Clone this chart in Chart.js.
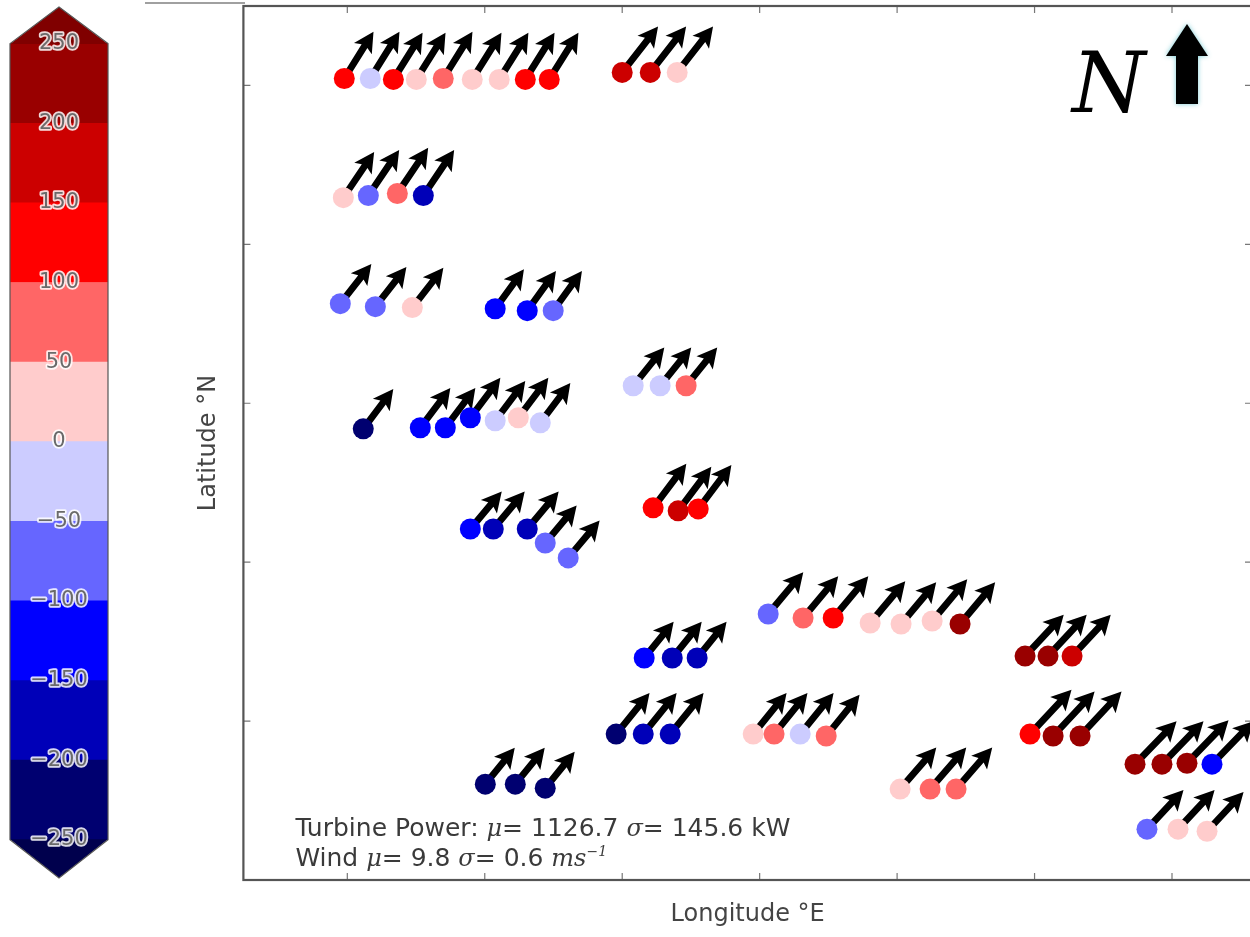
<!DOCTYPE html>
<html lang="en">
<head>
<meta charset="UTF-8">
<title>Turbine power deviation map</title>
<script src="https://cdn.jsdelivr.net/npm/chart.js"></script>
<style>
  html, body { margin: 0; padding: 0; background: #fff; overflow: hidden; }
  #wrap { position: relative; width: 1250px; height: 937px; overflow: hidden; }
  #mapChart { position: absolute; left: 0; top: 0; }
  #barChart { position: absolute; left: 0; top: 0; }
  #edge { position: absolute; left: 145px; top: 2px; width: 100px; height: 2px; background: #a0a0a0; }
</style>
</head>
<body>
<div id="wrap">
  <canvas id="mapChart" width="1256" height="937"></canvas>
  <canvas id="barChart" width="130" height="937"></canvas>
  <div id="edge"></div>
</div>
<script>
// turbine positions (axis units, tick every 1.0) and power deviation (kW)
const lon = [
  0.978, 1.167, 1.335, 1.502, 1.698, 1.909, 2.105, 2.295, 2.469,
  3.000, 3.204, 3.400,
  0.971, 1.153, 1.364, 1.553,
  0.949, 1.204, 1.473,
  2.076, 2.309, 2.498,
  1.116, 1.531, 1.713, 1.895, 2.076, 2.244, 2.404,
  3.080, 3.276, 3.465,
  1.895, 2.062, 2.309, 2.440, 2.607,
  3.225, 3.407, 3.553,
  4.062, 4.316, 4.535, 4.804, 5.029, 5.255, 5.458,
  3.160, 3.364, 3.545,
  2.956, 3.153, 3.349,
  3.953, 4.105, 4.295, 4.484,
  2.004, 2.222, 2.440,
  5.022, 5.240, 5.429,
  5.931, 6.098, 6.273,
  5.967, 6.135, 6.331,
  6.731, 6.927, 7.109, 7.291,
  6.818, 7.044, 7.255
];
const lat = [
  5.044, 5.044, 5.038, 5.038, 5.044, 5.038, 5.038, 5.038, 5.038,
  5.082, 5.082, 5.082,
  4.294, 4.307, 4.320, 4.307,
  3.627, 3.608, 3.602,
  3.595, 3.583, 3.583,
  2.839, 2.846, 2.846, 2.909, 2.890, 2.909, 2.877,
  3.110, 3.110, 3.110,
  2.209, 2.209, 2.209, 2.121, 2.027,
  2.342, 2.323, 2.335,
  1.674, 1.649, 1.649, 1.617, 1.611, 1.630, 1.611,
  1.397, 1.397, 1.397,
  0.918, 0.918, 0.918,
  0.918, 0.918, 0.918, 0.906,
  0.603, 0.603, 0.578,
  0.572, 0.572, 0.572,
  1.409, 1.409, 1.409,
  0.918, 0.906, 0.906,
  0.729, 0.729, 0.735, 0.729,
  0.320, 0.320, 0.307
];
const power = [
  130, -20, 130, 20, 80, 5, 10, 130, 130,
  170, 170, 30,
  20, -70, 70, -170,
  -70, -70, 10,
  -120, -140, -70,
  -220, -120, -140, -120, -20, 20, -30,
  -20, -10, 70,
  -130, -170, -170, -70, -80,
  130, 160, 130,
  -80, 70, 130, 10, 10, 30, 220,
  -120, -190, -190,
  -210, -190, -170,
  20, 70, -30, 70,
  -220, -220, -220,
  5, 70, 80,
  210, 210, 190,
  130, 210, 210,
  220, 220, 210, -120,
  -80, 20, 10
];
// wind speed (m/s) and direction the wind blows towards (deg from north)
const windSpd = [
  10.6, 10.6, 10.6, 10.6, 10.6, 10.6, 10.6, 10.6, 10.6,
  11.2, 11.2, 11.2,
  10.6, 10.6, 10.6, 10.6,
  9.7, 9.7, 9.7,
  9.4, 9.4, 9.4,
  9.6, 9.6, 9.6, 9.6, 9.6, 9.6, 9.6,
  9.5, 9.5, 9.5,
  9.4, 9.4, 9.4, 9.4, 9.4,
  10.6, 10.6, 10.6,
  10.5, 10.5, 10.5, 10.5, 10.5, 10.5, 10.5,
  9.0, 9.0, 9.0,
  10.2, 10.2, 10.2,
  10.2, 10.2, 10.2, 10.2,
  9.0, 9.0, 9.0,
  10.6, 10.6, 10.6,
  10.9, 10.9, 10.9,
  11.7, 11.7, 11.7,
  11.5, 11.5, 11.5, 11.5,
  10.3, 10.3, 10.3
];
const windDir = [
  32, 32, 32, 32, 32, 32, 32, 32, 32,
  38, 38, 38,
  34, 34, 34, 34,
  38, 38, 38,
  36, 36, 36,
  37, 37, 37, 37, 37, 37, 37,
  39, 39, 39,
  40, 40, 40, 40, 40,
  37, 37, 37,
  40, 40, 40, 40, 40, 40, 40,
  39, 39, 39,
  39, 39, 39,
  39, 39, 39, 39,
  39, 39, 39,
  41, 41, 41,
  43, 43, 43,
  43, 43, 43,
  44, 44, 44, 44,
  43, 43, 43
];

// colour bar
const levels = [-250, -200, -150, -100, -50, 0, 50, 100, 150, 200, 250];
const bandColors = ['#000070', '#0000b8', '#0000ff', '#6666ff', '#ccccff',
                    '#ffcccc', '#ff6666', '#ff0000', '#cc0000', '#990000'];
const underColor = '#00004d';
const overColor = '#800000';

const xTickVals = [1, 2, 3, 4, 5, 6, 7];
const yTickVals = [1, 2, 3, 4, 5];

const ARROW_PX_PER_MS = 5.2;

Chart.defaults.font.family = '"DejaVu Sans", sans-serif';

function powerColor(v) {
  for (let i = 0; i < bandColors.length; i++) {
    if (v < levels[i + 1]) return bandColors[i];
  }
  return bandColors[bandColors.length - 1];
}

// quiver style arrows, drawn under the dots
const arrowPlugin = {
  id: 'windArrows',
  beforeDatasetsDraw(chart) {
    const ctx = chart.ctx;
    const pts = chart.getDatasetMeta(0).data;
    const w = 3.4, h = 20, hw = 10.5, ax = 17;
    ctx.save();
    ctx.fillStyle = '#000';
    pts.forEach((p, i) => {
      const L = windSpd[i] * ARROW_PX_PER_MS;
      const a = windDir[i] * Math.PI / 180;
      ctx.save();
      ctx.translate(p.x, p.y);
      ctx.rotate(a - Math.PI / 2);
      ctx.beginPath();
      ctx.moveTo(0, -w);
      ctx.lineTo(L - ax, -w);
      ctx.lineTo(L - h, -hw);
      ctx.lineTo(L, 0);
      ctx.lineTo(L - h, hw);
      ctx.lineTo(L - ax, w);
      ctx.lineTo(0, w);
      ctx.closePath();
      ctx.fill();
      ctx.restore();
    });
    ctx.restore();
  }
};

// frame, inward ticks, stats text and north sign
const framePlugin = {
  id: 'frame',
  afterDraw(chart) {
    const ctx = chart.ctx;
    const a = chart.chartArea;
    const xs = chart.scales.x, ys = chart.scales.y;
    ctx.save();
    ctx.strokeStyle = '#777';
    ctx.lineWidth = 1.2;
    ctx.beginPath();
    xTickVals.forEach(v => {
      const px = xs.getPixelForValue(v);
      ctx.moveTo(px, a.bottom); ctx.lineTo(px, a.bottom - 7);
      ctx.moveTo(px, a.top); ctx.lineTo(px, a.top + 7);
    });
    yTickVals.forEach(v => {
      const py = ys.getPixelForValue(v);
      ctx.moveTo(a.left, py); ctx.lineTo(a.left + 7, py);
      ctx.moveTo(a.right, py); ctx.lineTo(a.right - 7, py);
    });
    ctx.stroke();
    ctx.strokeStyle = '#555';
    ctx.lineWidth = 2.2;
    ctx.strokeRect(a.left, a.top, a.right - a.left, a.bottom - a.top);

    // stats box text
    const sans = '25px "DejaVu Sans"';
    const mi = 'italic 24px "DejaVu Serif"';
    const lines = [
      [['Turbine Power: ', sans], ['\u03bc', mi], ['= 1126.7 ', sans], ['\u03c3', mi], ['= 145.6 kW', sans]],
      [['Wind ', sans], ['\u03bc', mi], ['= 9.8 ', sans], ['\u03c3', mi], ['= 0.6 ', sans], ['ms', mi], ['\u22121', 'italic 14px "DejaVu Serif"', -10]]
    ];
    ctx.fillStyle = '#3a3a3a';
    ctx.textBaseline = 'alphabetic';
    ctx.textAlign = 'left';
    lines.forEach((runs, li) => {
      let x = a.left + 52;
      const y = a.bottom - 44 + li * 30;
      runs.forEach(r => {
        ctx.font = r[1];
        ctx.fillText(r[0], x, y + (r[2] || 0));
        x += ctx.measureText(r[0]).width;
      });
    });

    // north sign
    ctx.font = 'italic 84px "DejaVu Serif"';
    ctx.fillStyle = '#000';
    ctx.fillText('N', 1072, 112);
    ctx.shadowColor = 'rgba(110,200,210,0.9)';
    ctx.shadowBlur = 5;
    ctx.beginPath();
    ctx.moveTo(1187, 24);
    ctx.lineTo(1208, 56);
    ctx.lineTo(1198, 56);
    ctx.lineTo(1198, 104);
    ctx.lineTo(1176, 104);
    ctx.lineTo(1176, 56);
    ctx.lineTo(1166, 56);
    ctx.closePath();
    ctx.fill();
    ctx.restore();
  }
};

new Chart(document.getElementById('mapChart'), {
  type: 'scatter',
  data: {
    datasets: [{
      data: lon.map((x, i) => ({ x: x, y: lat[i] })),
      pointBackgroundColor: power.map(powerColor),
      pointBorderWidth: 0,
      pointRadius: 10.5,
      pointHoverRadius: 10.5
    }]
  },
  options: {
    animation: false,
    responsive: false,
    events: [],
    layout: { autoPadding: false, padding: { left: 190, top: 6, right: 4, bottom: 0 } },
    plugins: { legend: { display: false }, tooltip: { enabled: false } },
    scales: {
      x: {
        type: 'linear', min: 0.244, max: 7.582,
        grid: { display: false, drawTicks: false },
        border: { display: false },
        ticks: { display: false },
        title: { display: true, text: 'Longitude \u00b0E', color: '#444',
                 font: { size: 24 }, padding: { top: 20.6, bottom: 7.6 } }
      },
      y: {
        type: 'linear', min: 0, max: 5.5,
        grid: { display: false, drawTicks: false },
        border: { display: false },
        ticks: { display: false },
        title: { display: true, text: 'Latitude \u00b0N', color: '#444',
                 font: { size: 24 }, padding: { top: 4, bottom: 20.6 } }
      }
    }
  },
  plugins: [arrowPlugin, framePlugin]
});

// colour bar ends, outline and labels
const barPlugin = {
  id: 'colorbarDeco',
  afterDatasetsDraw(chart) {
    const ctx = chart.ctx;
    const ys = chart.scales.y;
    const a = chart.chartArea;
    const cx = (a.left + a.right) / 2;
    const yTop = ys.getPixelForValue(levels[levels.length - 1]);
    const yBot = ys.getPixelForValue(levels[0]);
    ctx.save();
    ctx.fillStyle = overColor;
    ctx.beginPath();
    ctx.moveTo(a.left, yTop + 0.5); ctx.lineTo(cx, a.top); ctx.lineTo(a.right, yTop + 0.5);
    ctx.closePath(); ctx.fill();
    ctx.fillStyle = underColor;
    ctx.beginPath();
    ctx.moveTo(a.left, yBot - 0.5); ctx.lineTo(cx, a.bottom); ctx.lineTo(a.right, yBot - 0.5);
    ctx.closePath(); ctx.fill();

    ctx.strokeStyle = '#555';
    ctx.lineWidth = 1.2;
    ctx.beginPath();
    ctx.moveTo(a.left, yTop); ctx.lineTo(cx, a.top); ctx.lineTo(a.right, yTop);
    ctx.lineTo(a.right, yBot); ctx.lineTo(cx, a.bottom); ctx.lineTo(a.left, yBot);
    ctx.closePath(); ctx.stroke();

    ctx.font = '21px "DejaVu Sans"';
    ctx.textAlign = 'center';
    ctx.textBaseline = 'middle';
    ctx.lineJoin = 'round';
    levels.forEach(v => {
      const y = ys.getPixelForValue(v);
      const t = v < 0 ? '\u2212' + Math.abs(v) : String(v);
      ctx.strokeStyle = 'rgba(255,255,255,0.85)';
      ctx.lineWidth = 3.5;
      ctx.strokeText(t, cx, y);
      ctx.fillStyle = '#6a6a6a';
      ctx.fillText(t, cx, y);
    });
    ctx.restore();
  }
};

new Chart(document.getElementById('barChart'), {
  type: 'bar',
  data: {
    labels: ['kW'],
    datasets: bandColors.map((c, i) => ({
      data: [[levels[i], levels[i + 1]]],
      backgroundColor: c,
      borderWidth: 0,
      barPercentage: 1,
      categoryPercentage: 1,
      grouped: false
    }))
  },
  options: {
    animation: false,
    responsive: false,
    events: [],
    layout: { autoPadding: false, padding: { left: 10, right: 22, top: 7, bottom: 59 } },
    plugins: { legend: { display: false }, tooltip: { enabled: false } },
    scales: {
      x: { display: false },
      y: { display: false, min: -274, max: 273 }
    }
  },
  plugins: [barPlugin]
});
</script>
</body>
</html>
